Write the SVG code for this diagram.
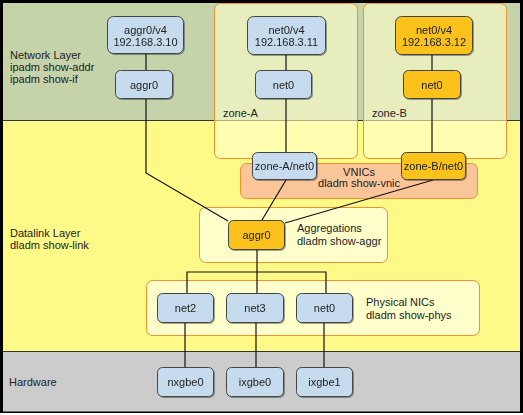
<svg xmlns="http://www.w3.org/2000/svg" width="523" height="415" viewBox="0 0 523 415">
<style>
text{font-family:"Liberation Sans",Arial,sans-serif;font-size:11px;fill:#222}
.c{text-anchor:middle}
.nb{fill:#C6DCEE;stroke:#444;stroke-width:1}
.no{fill:#FBC21E;stroke:#444;stroke-width:1}
.zone{fill:#FFFFCC;fill-opacity:0.6;stroke:#F0922E;stroke-width:1}
.grp{fill:#FFFFCC;stroke:#F0922E;stroke-width:1}
.vn{fill:#FBC59A;stroke:#F0922E;stroke-width:1}
.ln{fill:none;stroke:#111;stroke-width:1.2}
</style>
<defs>
<filter id="sh" x="-10%" y="-10%" width="130%" height="140%">
<feDropShadow dx="1" dy="1" stdDeviation="0.6" flood-color="#000" flood-opacity="0.35"/>
</filter>
</defs>
<rect x="0" y="0" width="523" height="415" fill="#FFFFFF"/>
<rect x="0" y="0" width="523" height="413" fill="#000"/>
<g id="layers">
<rect x="3" y="3" width="517" height="117" fill="#C5D3AB"/>
<rect x="3" y="121" width="517" height="230" fill="#FFFA87"/>
<rect x="3" y="352" width="517" height="59.5" fill="#CCCCCC"/>
<line x1="3" y1="120.5" x2="520" y2="120.5" stroke="#333" stroke-width="1"/>
<line x1="3" y1="351.5" x2="520" y2="351.5" stroke="#333" stroke-width="1"/>
<text x="10" y="59">Network Layer</text>
<text x="10" y="71">ipadm show-addr</text>
<text x="10" y="83">ipadm show-if</text>
<text x="10" y="237">Datalink Layer</text>
<text x="10" y="249">dladm show-link</text>
<text x="9" y="386">Hardware</text>
</g>
<g id="zone-A">
<rect class="zone" x="214.5" y="3.5" width="143" height="155" rx="6"/>
<text x="223" y="117">zone-A</text>
</g>
<g id="zone-B">
<rect class="zone" x="363.5" y="3.5" width="143" height="155" rx="6"/>
<text x="372" y="117">zone-B</text>
</g>
<g id="vnics">
<rect class="vn" x="240.5" y="163.5" width="237" height="35" rx="6"/>
<text class="c" x="359" y="176">VNICs</text>
<text class="c" x="359" y="187">dladm show-vnic</text>
</g>
<g id="aggregations">
<rect class="grp" x="199.5" y="207.5" width="188" height="55" rx="6"/>
<text x="297" y="232">Aggregations</text>
<text x="297" y="245">dladm show-aggr</text>
</g>
<g id="physical-nics">
<rect class="grp" x="146.5" y="280.5" width="333" height="55" rx="6"/>
<text x="366" y="306">Physical NICs</text>
<text x="366" y="319">dladm show-phys</text>
</g>
<g id="connectors">
<polyline class="ln" points="146,54 146,173 228,221"/>
<polyline class="ln" points="286,55 286,152"/>
<polyline class="ln" points="286,180 262,220"/>
<polyline class="ln" points="432,55 432,152"/>
<polyline class="ln" points="433,180 285,223"/>
<polyline class="ln" points="257,250 257,293"/>
<polyline class="ln" points="187,293 187,272 326,272 326,293"/>
<polyline class="ln" points="185,323 185,367"/>
<polyline class="ln" points="256,323 256,367"/>
<polyline class="ln" points="324,323 324,367"/>
</g>
<g id="aggr0-v4" filter="url(#sh)">
<rect class="nb" x="107.5" y="16.5" width="76" height="37" rx="6"/>
<text class="c" x="145.5" y="34">aggr0/v4</text>
<text class="c" x="145.5" y="46">192.168.3.10</text>
</g>
<g id="aggr0-ip" filter="url(#sh)">
<rect class="nb" x="115.5" y="70.5" width="57" height="28" rx="5"/>
<text class="c" x="144" y="89">aggr0</text>
</g>
<g id="netA-v4" filter="url(#sh)">
<rect class="nb" x="247.5" y="16.5" width="78" height="38" rx="6"/>
<text class="c" x="286.5" y="34">net0/v4</text>
<text class="c" x="286.5" y="46">192.168.3.11</text>
</g>
<g id="netA" filter="url(#sh)">
<rect class="nb" x="255.5" y="70.5" width="56" height="28" rx="5"/>
<text class="c" x="283.5" y="89">net0</text>
</g>
<g id="netB-v4" filter="url(#sh)">
<rect class="no" x="395.5" y="16.5" width="77" height="38" rx="6"/>
<text class="c" x="434" y="34">net0/v4</text>
<text class="c" x="434" y="46">192.168.3.12</text>
</g>
<g id="netB" filter="url(#sh)">
<rect class="no" x="403.5" y="70.5" width="57" height="28" rx="5"/>
<text class="c" x="432" y="89">net0</text>
</g>
<g id="zoneA-net0" filter="url(#sh)">
<rect class="nb" x="252.5" y="152.5" width="64" height="27" rx="5"/>
<text class="c" x="284.5" y="170">zone-A/net0</text>
</g>
<g id="zoneB-net0" filter="url(#sh)">
<rect class="no" x="401.5" y="152.5" width="64" height="27" rx="5"/>
<text class="c" x="433.5" y="170">zone-B/net0</text>
</g>
<g id="aggr0" filter="url(#sh)">
<rect class="no" x="228.5" y="220.5" width="56" height="29" rx="5"/>
<text class="c" x="256.5" y="239">aggr0</text>
</g>
<g id="net2" filter="url(#sh)">
<rect class="nb" x="157.5" y="293.5" width="56" height="29" rx="5"/>
<text class="c" x="185.5" y="312">net2</text>
</g>
<g id="net3" filter="url(#sh)">
<rect class="nb" x="226.5" y="293.5" width="57" height="29" rx="5"/>
<text class="c" x="255" y="312">net3</text>
</g>
<g id="net0" filter="url(#sh)">
<rect class="nb" x="296.5" y="293.5" width="56" height="29" rx="5"/>
<text class="c" x="324.5" y="312">net0</text>
</g>
<g id="nxgbe0" filter="url(#sh)">
<rect class="nb" x="157.5" y="367.5" width="56" height="29" rx="5"/>
<text class="c" x="185.5" y="386">nxgbe0</text>
</g>
<g id="ixgbe0" filter="url(#sh)">
<rect class="nb" x="226.5" y="367.5" width="57" height="29" rx="5"/>
<text class="c" x="255" y="386">ixgbe0</text>
</g>
<g id="ixgbe1" filter="url(#sh)">
<rect class="nb" x="296.5" y="367.5" width="56" height="29" rx="5"/>
<text class="c" x="324.5" y="386">ixgbe1</text>
</g>
</svg>
